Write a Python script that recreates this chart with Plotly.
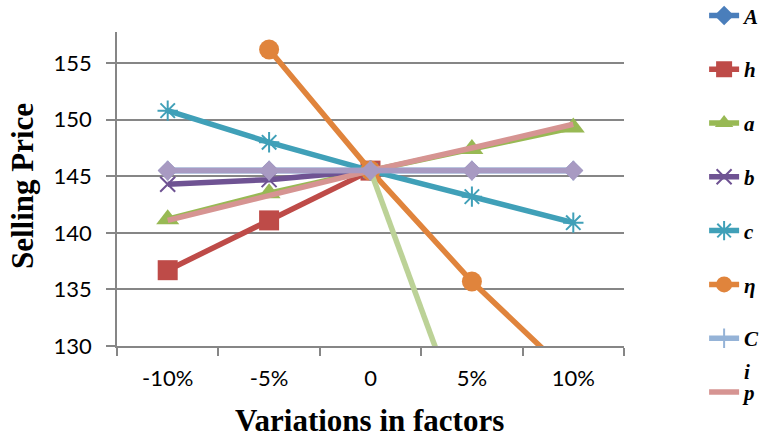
import plotly.graph_objects as go

categories = ["-10%", "-5%", "0", "5%", "10%"]

A_vals = [145.5, 145.5, 145.5, 145.5, 145.5]
h_vals = [136.7, 141.1, 145.5, None, None]
a_vals = [141.2, 143.5, 145.5, 147.4, 149.3]
b_vals = [144.3, 144.7, 145.5, None, None]
c_vals = [150.8, 148.0, 145.5, 143.2, 140.9]
eta_vals = [None, 156.2, 145.5, 135.7, 127.2]
C_vals = [145.5, 145.5, 145.5, 145.5, 145.5]
p_vals = [141.1, 143.3, 145.5, 147.5, 149.6]
extra1_vals = [None, None, 145.5, 121.1, None]
extra2_vals = [145.5, 145.5, 145.5, 145.5, 145.5]

y_ticks = [130, 135, 140, 145, 150, 155]

series = [
    ("A", A_vals, "#4A7EBB", "diamond", 15, True),
    ("h", h_vals, "#BE4B48", "square", 20, True),
    ("a", a_vals, "#98B954", "triangle-up", 20, True),
    ("b", b_vals, "#6F5393", "x-thin-open", 15, True),
    ("c", c_vals, "#40A0B8", "asterisk-open", 17, True),
    ("η", eta_vals, "#E0843C", "circle", 20, True),
    ("C", C_vals, "#95B3D7", "line-ns-open", 14, True),
    ("p", p_vals, "#D69492", None, 0, True),
    ("s9", extra1_vals, "#BCD297", None, 0, False),
    ("s10", extra2_vals, "#A89AC2", "diamond", 15.5, False),
]

fig = go.Figure()
for i, (name, vals, color, sym, size, show) in enumerate(series):
    kw = {}
    if sym is None:
        mode = "lines"
    else:
        mode = "lines+markers"
        open_sym = sym.endswith("open")
        kw["marker"] = dict(symbol=sym, size=size, color=color,
                            line=dict(color=color, width=2 if open_sym else 0))
    fig.add_trace(go.Scatter(
        x=categories, y=vals, name=name, mode=mode,
        line=dict(color=color, width=5.5),
        showlegend=show, legendgroup="g%d" % i,
        connectgaps=False, **kw))

fig.update_layout(
    width=762, height=442,
    margin=dict(l=117, r=138, t=32, b=96, autoexpand=False),
    paper_bgcolor="white", plot_bgcolor="white",
    font=dict(family="Lato", size=22, color="#000000"),
    showlegend=True,
    legend=dict(
        x=1.158, y=1.117, xanchor="left", yanchor="top",
        font=dict(family="Liberation Serif", size=21, color="#000000",
                  weight="bold", style="italic"),
        tracegroupgap=23.5, bgcolor="rgba(0,0,0,0)", maxheight=440,
    ),
    xaxis=dict(
        type="category", range=[-0.5, 4.5],
        showline=True, linecolor="#868686", linewidth=1.5,
        ticks="outside", tickson="boundaries", ticklen=8,
        tickcolor="#868686", tickwidth=1.5,
        showgrid=False, zeroline=False,
        tickfont=dict(family="Lato", size=22),
        ticklabelstandoff=12,
    ),
    yaxis=dict(
        range=[130, 157.75], tickvals=y_ticks,
        showline=True, linecolor="#868686", linewidth=1.5,
        ticks="outside", ticklen=9, tickcolor="#868686", tickwidth=1.5,
        showgrid=True, gridcolor="#868686", gridwidth=1.5,
        zeroline=False,
        tickfont=dict(family="Lato", size=22),
        ticklabelstandoff=10,
    ),
    annotations=[
        dict(text="Variations in factors", xref="paper", yref="paper",
             x=0.499, y=-0.236, showarrow=False, xanchor="center", yanchor="middle",
             font=dict(family="Liberation Serif", size=31, weight="bold")),
        dict(text="Selling Price", xref="paper", yref="paper",
             x=-0.185, y=0.51, showarrow=False, textangle=-90,
             xanchor="center", yanchor="middle",
             font=dict(family="Liberation Serif", size=31, weight="bold")),
        dict(text="i", xref="paper", yref="paper",
             x=1.2426, y=-0.082, showarrow=False, xanchor="center", yanchor="middle",
             font=dict(family="Liberation Serif", size=21, weight="bold", style="italic")),
    ],
)

fig.write_html("out.html")
